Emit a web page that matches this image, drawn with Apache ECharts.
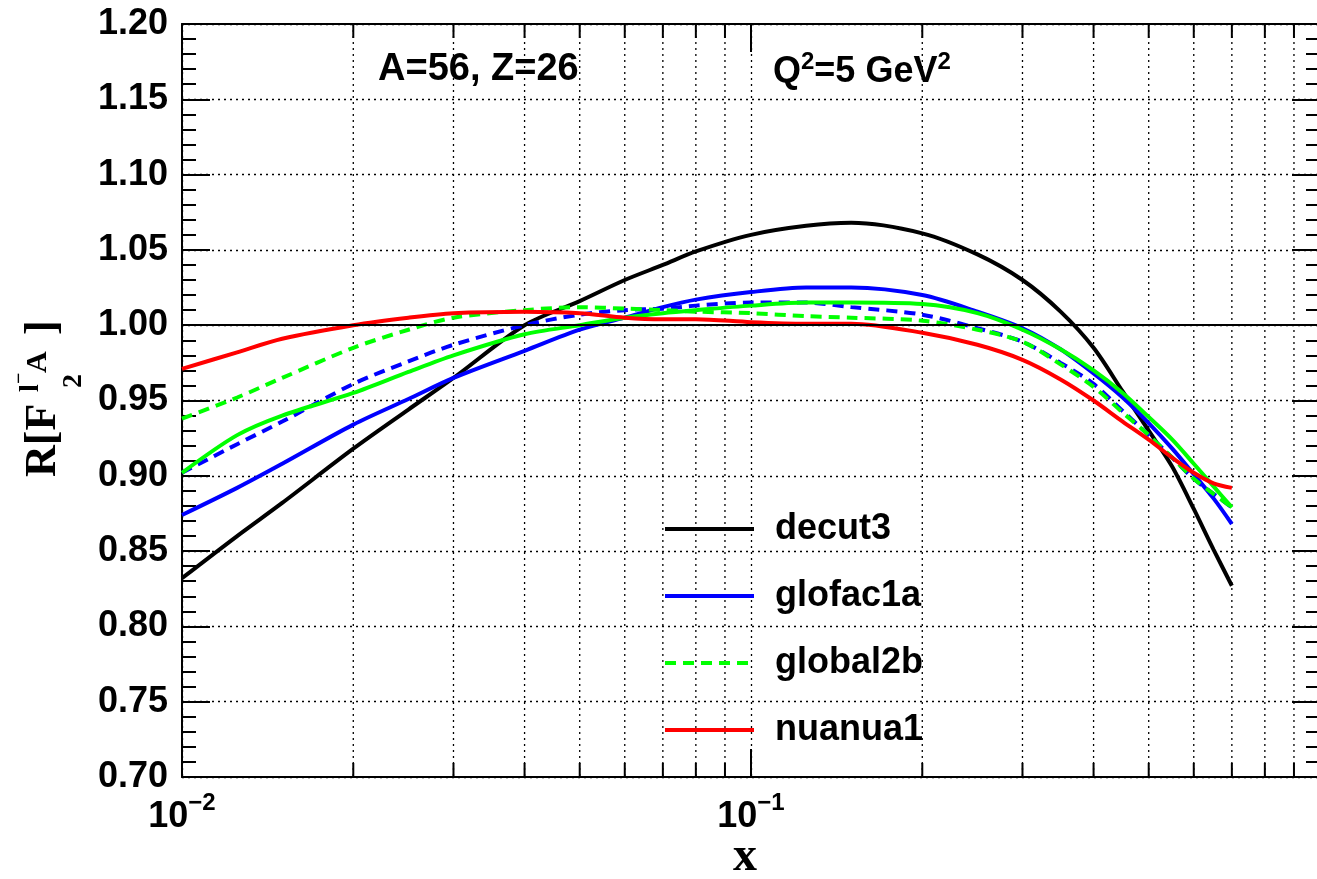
<!DOCTYPE html>
<html>
<head>
<meta charset="utf-8">
<title>R[F2] ratio, A=56 Z=26, Q2=5 GeV2</title>
<script src="https://cdn.jsdelivr.net/npm/echarts@6/dist/echarts.min.js"></script>
<style>
  html, body { margin: 0; padding: 0; background: #fff; }
  #chart { width: 1317px; height: 879px; }
</style>
</head>
<body>
<div id="chart"></div>
<script>
const xValues = [0.01, 0.0125, 0.015, 0.02, 0.025, 0.03, 0.04, 0.05, 0.06, 0.07, 0.08,
  0.1, 0.125, 0.15, 0.2, 0.25, 0.3, 0.35, 0.4, 0.45, 0.5, 0.55, 0.6, 0.65, 0.7];

const decut3 = [0.832, 0.860, 0.882, 0.918, 0.944, 0.965, 1.000, 1.016, 1.030, 1.040, 1.049,
  1.060, 1.066, 1.068, 1.061, 1.047, 1.030, 1.009, 0.985, 0.956, 0.930, 0.906, 0.878, 0.851, 0.827];
const glofac1a = [0.874, 0.892, 0.908, 0.934, 0.951, 0.965, 0.983, 0.997, 1.005, 1.012, 1.017,
  1.022, 1.025, 1.025, 1.020, 1.009, 0.998, 0.984, 0.968, 0.952, 0.935, 0.918, 0.901, 0.885, 0.868];
const blueDashed = [0.902, 0.921, 0.936, 0.961, 0.976, 0.987, 1.000, 1.007, 1.010, 1.011, 1.013,
  1.015, 1.015, 1.012, 1.007, 0.998, 0.989, 0.975, 0.961, 0.943, 0.927, 0.912, 0.898, 0.888, 0.879];
const greenSolid = [0.902, 0.927, 0.940, 0.955, 0.969, 0.980, 0.994, 1.000, 1.005, 1.008, 1.010,
  1.013, 1.015, 1.015, 1.014, 1.008, 0.997, 0.984, 0.970, 0.955, 0.939, 0.924, 0.908, 0.893, 0.879];
const global2b = [0.938, 0.952, 0.965, 0.985, 0.997, 1.005, 1.010, 1.012, 1.011, 1.010, 1.009,
  1.008, 1.006, 1.005, 1.003, 0.997, 0.989, 0.974, 0.959, 0.942, 0.927, 0.912, 0.898, 0.888, 0.879];
const nuanua1 = [0.971, 0.982, 0.991, 1.000, 1.005, 1.008, 1.009, 1.008, 1.005, 1.004, 1.004,
  1.002, 1.001, 1.001, 0.995, 0.987, 0.977, 0.964, 0.950, 0.936, 0.924, 0.912, 0.902, 0.895, 0.892];

const legendNames = ['decut3', 'glofac1a', 'global2b', 'nuanua1'];
const xMinorTicks = [0.02, 0.03, 0.04, 0.05, 0.06, 0.07, 0.08, 0.09,
  0.2, 0.3, 0.4, 0.5, 0.6, 0.7, 0.8, 0.9];
const yMin = 0.7, yMax = 1.2, yStep = 0.05;

const SANS = '"Liberation Sans", Arial, Helvetica, sans-serif';
const SERIF = '"Liberation Serif", "Times New Roman", serif';
const dotted = { color: '#000', width: 1.3, type: [2, 4] };

function pairs(ys) {
  return xValues.map((x, i) => [x, ys[i]]);
}

function curve(name, ys, color, dashed) {
  return {
    name: name,
    type: 'line',
    data: pairs(ys),
    symbol: 'none',
    smooth: 0.3,
    lineStyle: { color: color, width: 4, type: dashed ? [11, 7] : 'solid' },
    itemStyle: { color: color }
  };
}

const series = [
  curve('decut3', decut3, '#000000', false),
  curve('glofac1a', glofac1a, '#0000ff', false),
  curve('blue dashed', blueDashed, '#0000ff', true),
  curve('green solid', greenSolid, '#00ff00', false),
  curve('global2b', global2b, '#00ff00', true),
  curve('nuanua1', nuanua1, '#ff0000', false)
];
// solid reference line at R = 1
series[0].markLine = {
  silent: true,
  symbol: ['none', 'none'],
  label: { show: false },
  lineStyle: { type: 'solid', color: '#000', width: 2 },
  data: [{ yAxis: 1 }]
};

const supLabel = {
  b: { fontSize: 36, fontWeight: 'bold', fontFamily: SANS, color: '#000', lineHeight: 44, verticalAlign: 'bottom' },
  s: { fontSize: 24, fontWeight: 'bold', fontFamily: SANS, color: '#000', lineHeight: 24, verticalAlign: 'top' }
};

const option = {
  animation: false,
  backgroundColor: '#fff',
  grid: { left: 182, right: -3, top: 24, bottom: 102, containLabel: false, outerBoundsMode: 'none' },
  legend: {
    data: legendNames,
    orient: 'vertical',
    left: 663,
    top: 509,
    padding: 0,
    itemWidth: 89,
    itemHeight: 20,
    itemGap: 27,
    itemStyle: { opacity: 0 },
    lineStyle: { width: 4 },
    textStyle: {
      fontSize: 36, fontWeight: 'bold', fontFamily: SANS, color: '#000',
      lineHeight: 40, padding: [0, 0, 0, 16]
    }
  },
  xAxis: [{
    type: 'log',
    logBase: 10,
    min: 0.01,
    max: 1,
    position: 'bottom',
    axisLine: { lineStyle: { color: '#000', width: 2 } },
    axisTick: { inside: true, length: 28, lineStyle: { color: '#000', width: 2 } },
    splitLine: { show: true, lineStyle: dotted },
    axisLabel: {
      margin: 14,
      formatter: function (v) {
        const e = Math.round(Math.log10(v));
        if (e === 0) return ''; // clipped off the right edge in the original
        return '{b|10}{s|\u2212' + (-e) + '}';
      },
      rich: supLabel
    }
  }, {
    type: 'log',
    logBase: 10,
    min: 0.01,
    max: 1,
    position: 'top',
    axisLine: { lineStyle: { color: '#000', width: 2 } },
    axisTick: { inside: true, length: 28, lineStyle: { color: '#000', width: 2 } },
    axisLabel: { show: false },
    splitLine: { show: false }
  }],
  yAxis: [{
    type: 'value',
    min: yMin,
    max: yMax,
    interval: yStep,
    position: 'left',
    axisLine: { lineStyle: { color: '#000', width: 2 } },
    axisTick: { inside: true, length: 28, lineStyle: { color: '#000', width: 2 } },
    minorTick: { show: true, splitNumber: 5, length: 14, lineStyle: { color: '#000', width: 2 } },
    splitLine: { show: true, lineStyle: dotted },
    axisLabel: {
      margin: 14,
      fontSize: 36, fontWeight: 'bold', fontFamily: SANS, color: '#000',
      formatter: v => v.toFixed(2)
    }
  }, {
    type: 'value',
    min: yMin,
    max: yMax,
    interval: yStep,
    position: 'right',
    axisLine: { lineStyle: { color: '#000', width: 2 } },
    axisTick: { inside: true, length: 28, lineStyle: { color: '#000', width: 2 } },
    minorTick: { show: true, splitNumber: 5, length: 14, lineStyle: { color: '#000', width: 2 } },
    splitLine: { show: false },
    axisLabel: { show: false }
  }],
  series: series
};

const chart = echarts.init(document.getElementById('chart'));
chart.setOption(option);

// minor decade ticks + dotted grid for the log axis, placed through the axis scale
const yTop = chart.convertToPixel({ yAxisIndex: 0 }, yMax);
const yBottom = chart.convertToPixel({ yAxisIndex: 0 }, yMin);
const elements = [];
xMinorTicks.forEach(v => {
  const px = chart.convertToPixel({ xAxisIndex: 0 }, v);
  elements.push({ type: 'line', silent: true, z: 0,
    shape: { x1: px, y1: yTop, x2: px, y2: yBottom },
    style: { stroke: '#000', lineWidth: 1.3, lineDash: [2, 4] } });
  elements.push({ type: 'line', silent: true, z: 1,
    shape: { x1: px, y1: yBottom, x2: px, y2: yBottom - 14 },
    style: { stroke: '#000', lineWidth: 2 } });
  elements.push({ type: 'line', silent: true, z: 1,
    shape: { x1: px, y1: yTop, x2: px, y2: yTop + 14 },
    style: { stroke: '#000', lineWidth: 2 } });
});

const txt = (text, x, y, font, extra) => Object.assign({
  type: 'text', x: x, y: y,
  style: { text: text, font: font, fill: '#000', align: 'left', verticalAlign: 'middle',
    textAlign: 'left', textVerticalAlign: 'middle' }
}, extra || {});

elements.push(txt('A=56, Z=26', 378, 70, 'bold 38px ' + SANS));
elements.push({
  type: 'text', x: 773, y: 70,
  style: {
    text: '{n|Q}{s|2}{n|=5 GeV}{s|2}',
    align: 'left', verticalAlign: 'middle', textAlign: 'left', textVerticalAlign: 'middle',
    rich: {
      n: { fontSize: 36, fontWeight: 'bold', fontFamily: SANS, fill: '#000', lineHeight: 40, verticalAlign: 'bottom' },
      s: { fontSize: 24, fontWeight: 'bold', fontFamily: SANS, fill: '#000', lineHeight: 22, verticalAlign: 'top' }
    }
  }
});

// x axis title
elements.push({
  type: 'text', x: 745, y: 858,
  style: { text: 'x', font: 'bold 48px ' + SERIF, fill: '#000',
    align: 'center', verticalAlign: 'middle', textAlign: 'center', textVerticalAlign: 'middle' }
});

// y axis title R[F_2^{l^- A}], written bottom-to-top
elements.push({
  type: 'group', x: 58, y: 477, rotation: Math.PI / 2,
  children: [
    txt('R[F', 0, -14, 'bold 44px ' + SERIF),
    txt('2', 89, 16, 'bold 28px ' + SERIF),
    txt('l', 85, -27, 'bold 28px ' + SERIF),
    txt('\u2212', 93, -38, 'bold 20px ' + SERIF),
    txt('A', 104, -20, 'bold 30px ' + SERIF),
    txt(']', 142, -14, 'bold 44px ' + SERIF)
  ]
});

chart.setOption({ graphic: elements });
</script>
</body>
</html>
